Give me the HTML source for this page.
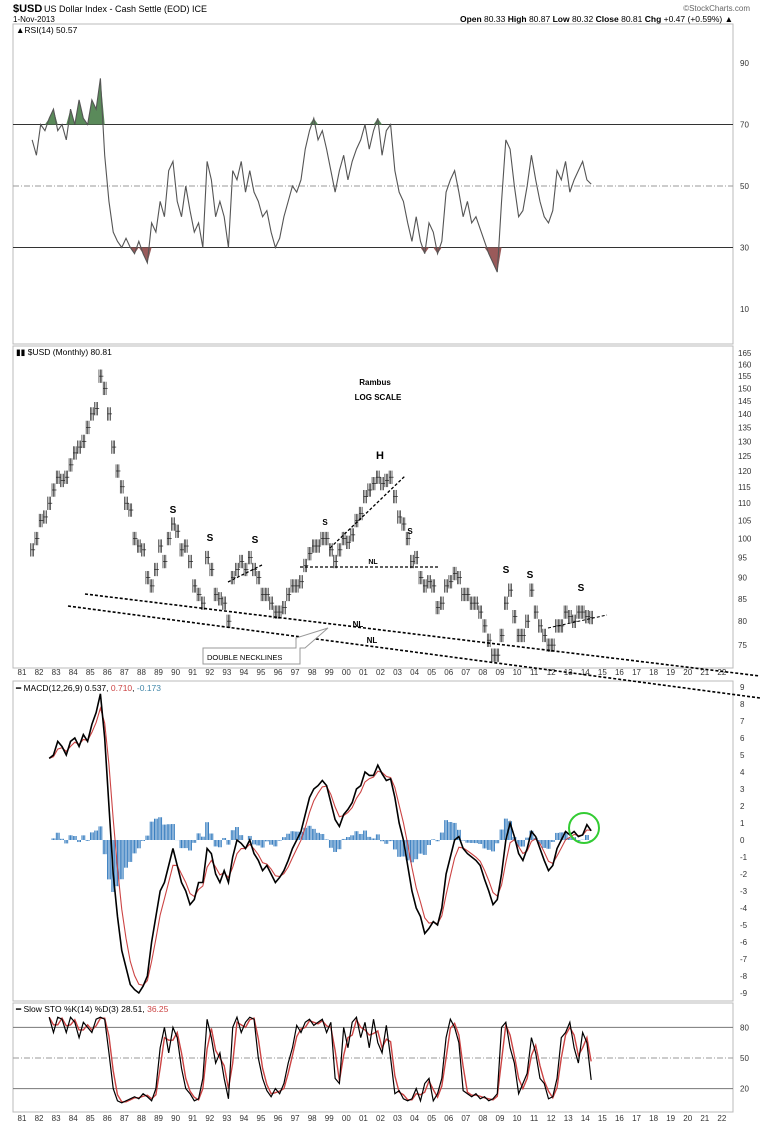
<!DOCTYPE html>
<html><head><meta charset="utf-8">
<style>
body{margin:0;background:#fff;}
svg{display:block;font-family:"Liberation Sans",sans-serif;}
</style></head>
<body>
<svg id="c" width="765" height="1128" viewBox="0 0 765 1128" xmlns="http://www.w3.org/2000/svg">
<text x="13" y="12" font-size="11" font-weight="bold">$USD</text>
<text x="44" y="12" font-size="9">US Dollar Index - Cash Settle (EOD) ICE</text>
<text x="13" y="22" font-size="8">1-Nov-2013</text>
<text x="750" y="11" font-size="8" fill="#666" text-anchor="end">©StockCharts.com</text>
<text x="733" y="22" font-size="8.5" text-anchor="end"><tspan font-weight="bold">Open</tspan> 80.33 <tspan font-weight="bold">High</tspan> 80.87 <tspan font-weight="bold">Low</tspan> 80.32 <tspan font-weight="bold">Close</tspan> 80.81 <tspan font-weight="bold">Chg</tspan> +0.47 (+0.59%) ▲</text>
<g id="g"></g>
</svg>
<script>
const years=[81,82,83,84,85,86,87,88,89,90,91,92,93,94,95,96,97,98,99,"00","01","02","03","04","05","06","07","08","09",10,11,12,13,14,15,16,17,18,19,20,21,22];
const priceTicks=[165,160,155,150,145,140,135,130,125,120,115,110,105,100,95,90,85,80,75];
const rsiTicks=[90,70,50,30,10];
const macdTicks=[9,8,7,6,5,4,3,2,1,0,-1,-2,-3,-4,-5,-6,-7,-8,-9];
const stoTicks=[80,50,20];
// quarterly values starting 1981Q1
const price=[97,100,105,106,110,114,118,117,118,122,126,128,130,135,140,142,155,150,140,128,120,115,110,108,100,98,97,90,88,92,98,94,100,104,102,97,98,94,88,86,84,95,92,86,85,84,80,90,92,94,92,95,92,90,86,86,84,82,82,83,86,88,88,89,93,96,98,98,100,100,97,94,97,100,99,101,105,107,112,114,116,118,116,117,118,112,106,104,100,94,95,90,88,89,88,83,84,88,89,91,90,86,86,84,84,82,79,76,73,73,77,84,87,81,77,77,80,87,82,79,77,75,75,79,79,82,81,80,82,82,81,80.8];
const rsi=[65,60,70,68,72,75,68,70,65,75,70,78,72,70,78,75,85,60,45,35,32,30,33,30,28,32,28,25,38,35,45,40,55,58,45,40,50,42,35,38,30,58,52,40,45,40,30,55,52,58,48,55,48,45,40,42,35,30,33,40,45,50,48,52,62,68,72,65,68,62,55,48,55,60,52,58,62,65,70,62,68,72,60,68,70,55,48,45,38,32,40,32,28,38,35,28,32,48,52,55,48,40,45,38,40,36,32,28,25,22,45,65,62,50,40,42,50,60,52,45,40,38,42,55,52,58,48,52,55,58,52,50.6];
// quarterly values starting 1982Q1
const macd=[4.8,5.0,5.8,5.5,5.0,5.8,6.0,5.5,6.2,5.8,6.8,7.5,8.6,6.0,2.0,-2,-4.5,-6.5,-7.5,-8.5,-8.8,-9.0,-8.6,-8.0,-6,-4.5,-3,-2.5,-1.5,-0.5,-1.5,-2.5,-3,-3.8,-3.5,-2.5,-2.5,-0.5,-0.8,-2,-2.5,-1.8,-2.5,-1,0,-0.2,-0.5,0,-0.8,-1.2,-1.8,-1.5,-2,-2.5,-2.2,-1.8,-1.2,-0.5,0,0.5,1.5,2.5,3,3.2,3.5,3.2,2.2,1.2,0.8,1.5,1.8,2.2,3.0,3.2,4.0,3.8,3.8,4.4,3.9,3.5,3.6,2.5,1,0,-1.5,-3,-4,-4.5,-5.5,-5.2,-4.8,-5,-4,-2,-1,0,0.2,-0.5,-0.8,-1,-1.2,-1.5,-2.3,-3,-3.8,-3.5,-2,0,1,0.2,-0.8,-1.2,-0.5,0.5,0.2,-0.5,-1.2,-1.8,-1.5,-0.5,0,0.5,0.3,0.5,0.2,0.3,0.9,0.54];
const sto=[90,75,90,88,75,90,85,70,85,80,75,88,90,88,55,20,8,6,8,10,12,10,15,12,8,20,60,80,55,80,70,40,20,15,8,10,30,88,70,45,55,30,10,80,90,75,85,90,88,50,30,18,12,20,15,25,45,60,82,75,85,88,82,85,88,75,85,30,25,80,60,85,90,70,85,60,88,65,55,82,50,15,18,10,8,10,20,8,25,30,8,15,30,70,88,80,65,18,15,12,15,10,12,8,10,15,80,85,60,45,15,25,35,70,55,30,25,10,12,30,70,75,85,60,45,75,65,28.5];

const NS="http://www.w3.org/2000/svg";
const G=document.getElementById('g');
function el(t,a,txt){const e=document.createElementNS(NS,t);for(const k in a)e.setAttribute(k,a[k]);if(txt!==undefined)e.textContent=txt;G.appendChild(e);return e;}
const L=13,R=733;
const xT=t=>30+(t-1981)*17.07;
const yRsi=v=>186-(v-50)*3.075;
const yPr=p=>353+370.5*Math.log(165/p);
const yMacd=v=>840-v*17;
const yS=v=>1058-(v-50)*1.02;

[[24,344],[346,668],[681,1001],[1003,1112]].forEach((p,i)=>{
 const r=el('rect',{x:L,y:p[0],width:R-L,height:p[1]-p[0],fill:'none',stroke:'#bbb','stroke-width':1});
 
 
});
[675,1121].forEach((yy,j)=>years.forEach((y,i)=>{
 const t=el('text',{x:22+i*17.07,y:yy,'font-size':8,'text-anchor':'middle',fill:'#333'},String(y));
 
 
}));

// ---- RSI ----
const rl=el('text',{x:16,y:33,'font-size':8.5},'▲RSI(14) 50.57');


rsiTicks.forEach(v=>{const t=el('text',{x:740,y:yRsi(v)+3,'font-size':8,fill:'#333'},String(v));
 });
[70,30].forEach(v=>{const l=el('line',{x1:L,x2:R,y1:yRsi(v),y2:yRsi(v),stroke:'#333','stroke-width':1});
 });
const rm=el('line',{x1:L,x2:R,y1:yRsi(50),y2:yRsi(50),stroke:'#999','stroke-dasharray':'6,2,1,2'});

let rp=rsi.map((v,i)=>[xT(1981+i/4+0.125),yRsi(v)]);
let gp='M'+rp.map(p=>p[0]+','+Math.min(p[1],yRsi(70))).join('L')+'L'+rp[rp.length-1][0]+','+yRsi(70)+'L'+rp[0][0]+','+yRsi(70)+'Z';
const gf=el('path',{d:gp,fill:'#5a8a5a'});
let rpth='M'+rp.map(p=>p[0]+','+Math.max(p[1],yRsi(30))).join('L')+'L'+rp[rp.length-1][0]+','+yRsi(30)+'L'+rp[0][0]+','+yRsi(30)+'Z';
const rf=el('path',{d:rpth,fill:'#9a5a5a'});
const rline=el('polyline',{points:rp.map(p=>p.join(',')).join(' '),fill:'none',stroke:'#555','stroke-width':1.1});


// ---- Price ----
const pl=el('text',{x:16,y:355,'font-size':8.5},'▮▮ $USD (Monthly) 80.81');

priceTicks.forEach(v=>{const t=el('text',{x:738,y:yPr(v)+3,'font-size':8,fill:'#333'},String(v));
 });
price.forEach((v,i)=>{
 for(let m=0;m<3;m++){
  const x=xT(1981+i/4+m/12+0.04);
  const b=el('line',{x1:x,x2:x,y1:yPr(v*1.018),y2:yPr(v*0.982),stroke:'#222','stroke-width':0.7});
  
  const tk=el('line',{x1:x,x2:x+1.6,y1:yPr(v),y2:yPr(v),stroke:'#222','stroke-width':0.7});
  
 }
});
function dash(x1,y1,x2,y2,name,w){const l=el('line',{x1,y1,x2,y2,stroke:'#000','stroke-width':w||1.6,'stroke-dasharray':'3,2'});
 }
dash(85,594,760,676,'upper-neckline');
dash(68,606,760,698,'lower-neckline');
dash(300,567,440,567,'horizontal-neckline',1.3);
dash(330,548,405,476,'head-trendline',1.3);
dash(228,582,262,565,'shoulder-trendline',1.3);
dash(548,628,607,615,'right-shoulder-trendline',1);
[[173,513,'S',10],[210,541,'S',10],[255,543,'S',10],[325,525,'S',8],[410,534,'S',8],[380,459,'H',11],[506,573,'S',10],[530,578,'S',10],[581,591,'S',10],[373,564,'NL',7],[358,627,'NL',8],[372,643,'NL',8]].forEach(a=>{
 const t=el('text',{x:a[0],y:a[1],'font-size':a[3],'font-weight':'bold','text-anchor':'middle'},a[2]);
 });
const a1=el('text',{x:375,y:385,'font-size':8,'font-weight':'bold','text-anchor':'middle'},'Rambus');

const a2=el('text',{x:378,y:400,'font-size':8,'font-weight':'bold','text-anchor':'middle'},'LOG SCALE');

const cb=el('path',{d:'M203,648 H296 V638 L328,628 L305,648 H300 V664 H203 Z',fill:'#fff',stroke:'#999'});

const ct=el('text',{x:207,y:660,'font-size':7.5},'DOUBLE NECKLINES');


// ---- MACD ----
const ml=el('text',{x:16,y:691,'font-size':8.5},'');
ml.innerHTML='━ MACD(12,26,9) 0.537, <tspan fill="#c44">0.710</tspan>, <tspan fill="#48a">-0.173</tspan>';

macdTicks.forEach(v=>{const t=el('text',{x:740,y:yMacd(v)+3,'font-size':8,fill:'#333'},String(v));
 });
const sig=[];macd.forEach((v,i)=>sig.push(i?sig[i-1]+0.5*(v-sig[i-1]):v));
macd.forEach((v,i)=>{const d=(v-sig[i])*0.95;const x=xT(1982+i/4+0.125);
 for(let m=-1;m<=1;m++){const b=el('rect',{x:x+m*1.4-0.5,y:Math.min(yMacd(0),yMacd(d)),width:1,height:Math.abs(yMacd(d)-yMacd(0)),fill:'#3a7fc0'});
 }});
const sl=el('polyline',{points:sig.map((v,i)=>xT(1982+i/4+0.125)+','+yMacd(v)).join(' '),fill:'none',stroke:'#c44','stroke-width':1.1});

const mline=el('polyline',{points:macd.map((v,i)=>xT(1982+i/4+0.125)+','+yMacd(v)).join(' '),fill:'none',stroke:'#000','stroke-width':1.6});

const circ=el('circle',{cx:584,cy:828,r:15,fill:'none',stroke:'#3c3','stroke-width':2});


// ---- STO ----
const stl=el('text',{x:16,y:1012,'font-size':8.5},'');
stl.innerHTML='━ Slow STO %K(14) %D(3) 28.51, <tspan fill="#c44">36.25</tspan>';

stoTicks.forEach(v=>{const t=el('text',{x:740,y:yS(v)+3,'font-size':8,fill:'#333'},String(v));
 });
[80,20].forEach(v=>{const l=el('line',{x1:L,x2:R,y1:yS(v),y2:yS(v),stroke:'#777','stroke-width':1});
 });
const sm=el('line',{x1:L,x2:R,y1:yS(50),y2:yS(50),stroke:'#999','stroke-dasharray':'6,2,1,2'});

const dser=sto.map((v,i)=>i?(sto[i-1]+v)/2:v);
const dl=el('polyline',{points:dser.map((v,i)=>xT(1982+i/4+0.125)+','+yS(v)).join(' '),fill:'none',stroke:'#c44','stroke-width':1.4});

const kl=el('polyline',{points:sto.map((v,i)=>xT(1982+i/4+0.125)+','+yS(v)).join(' '),fill:'none',stroke:'#000','stroke-width':1.2});

</script>
</body></html>
